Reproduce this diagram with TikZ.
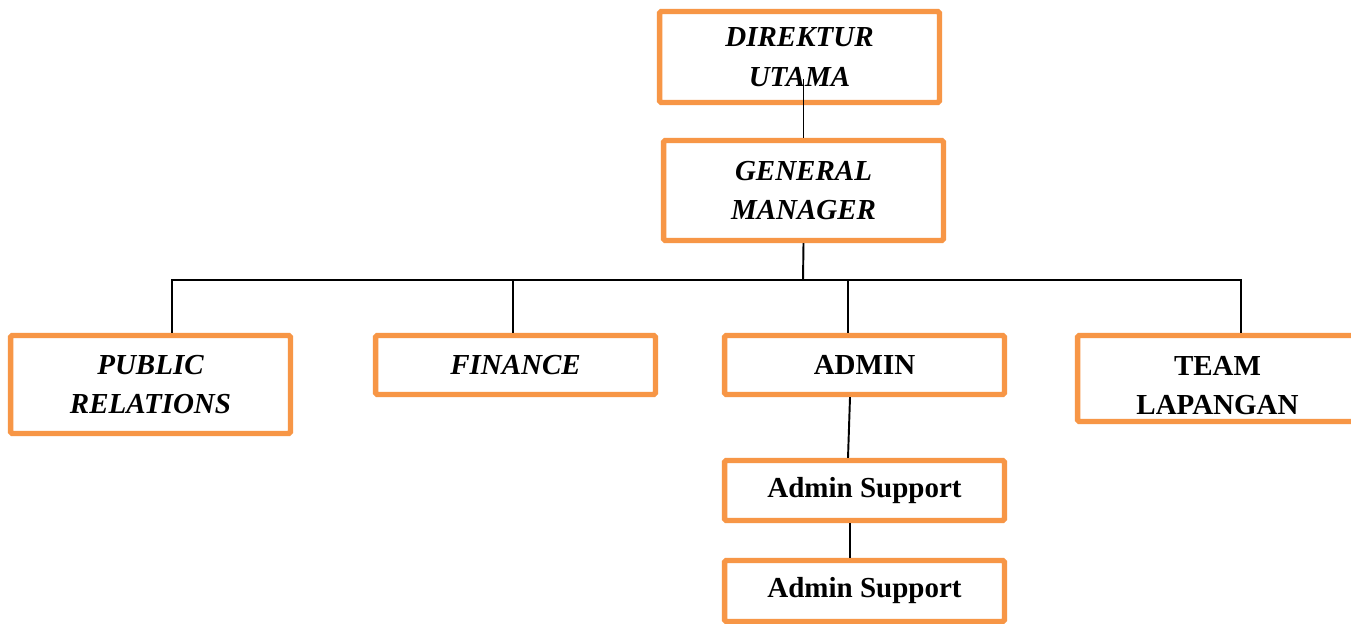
\documentclass[tikz,border=0pt]{standalone}
\usepackage{fontspec}
\setmainfont{Liberation Serif}
\usepackage{tikz}
\usetikzlibrary{calc,positioning}
\definecolor{boxorange}{HTML}{F79646}
\tikzset{orgbox/.style={draw=boxorange,line width=3.1pt,rounded corners=1pt,align=center,minimum width=5.6cm,inner sep=2pt,font=\fontsize{16.5}{22.5}\selectfont\bfseries},
  orgit/.style={orgbox,font=\fontsize{16.5}{22.5}\selectfont\bfseries\itshape},
  link/.style={line width=1.1pt,black}}
\begin{document}
\begin{tikzpicture}[x=0.02cm,y=-0.02cm]
\clip (0,0) rectangle (1351,624);
\fill[white] (0,0) rectangle (1351,624);
\node[orgit,minimum height=1.82cm] (dir) at (799.5,57) {DIREKTUR\\UTAMA};
\node[orgit,minimum height=2.0cm] (gm) at (803.5,190.5) {GENERAL\\MANAGER};
\node[orgit,minimum height=1.96cm] (pr) at (150.5,384.5) {PUBLIC\\RELATIONS};
\node[orgit,minimum height=1.18cm] (fin) at (515.5,365) {FINANCE};
\node[orgbox,minimum height=1.18cm] (adm) at (864.5,365) {ADMIN};
\node[orgbox,minimum height=1.72cm,
  label={[align=center,yshift=-0.14cm,font=\fontsize{16.5}{22.5}\selectfont\bfseries]center:TEAM\\LAPANGAN}] (team) at (1217.5,378.5) {};
\node[orgbox,minimum height=1.2cm] (as1) at (864.5,490.5) {Admin Support};
\node[orgbox,minimum height=1.22cm] (as2) at (864.5,591) {Admin Support};
\coordinate (bus) at (803,280);
\draw[link] (gm.north) -- ([yshift=-0.44cm]gm.north |- dir.center);
\draw[link] (gm.south) -- (bus);
\draw[link] ([xshift=0.43cm]pr.north) |- (bus) -| ([xshift=0.47cm]team.north);
\draw[link] ([xshift=-0.05cm]fin.north) -- ([xshift=-0.05cm]fin.north |- bus);
\draw[link] ([xshift=-0.33cm]adm.north) -- ([xshift=-0.33cm]adm.north |- bus);
\draw[link] ([xshift=-0.29cm]adm.south) -- ([xshift=-0.33cm]as1.north);
\draw[link] ([xshift=-0.29cm]as1.south) -- ([xshift=-0.29cm]as2.north);
\end{tikzpicture}
\end{document}
